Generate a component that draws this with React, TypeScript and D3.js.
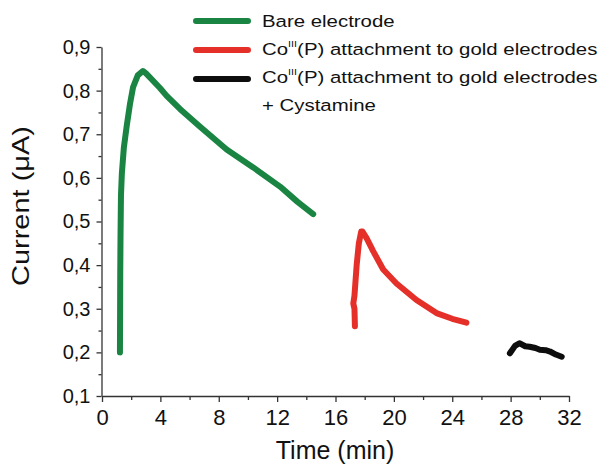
import React, { useEffect, useRef } from 'react';
import * as d3 from 'd3';

const bareTime = [1.23, 1.25, 1.27, 1.3, 1.36, 1.5, 1.69, 1.92, 2.13, 2.45, 2.8, 3.0, 3.97, 4.43, 5.34, 6.7, 8.54, 10.36, 12.2, 13.4, 14.47];
const bareCurrent = [0.2, 0.38, 0.47, 0.56, 0.61, 0.67, 0.718, 0.77, 0.808, 0.835, 0.845, 0.84, 0.806, 0.788, 0.758, 0.718, 0.665, 0.624, 0.58, 0.545, 0.517];

const coTime = [17.33, 17.3, 17.22, 17.3, 17.45, 17.6, 17.76, 17.85, 18.13, 18.58, 19.27, 20.18, 21.55, 22.92, 24.0, 24.97];
const coCurrent = [0.26, 0.3, 0.312, 0.33, 0.4, 0.45, 0.477, 0.477, 0.462, 0.432, 0.39, 0.358, 0.32, 0.29, 0.277, 0.268];

const cysTime = [27.95, 28.3, 28.6, 29.0, 29.3, 29.7, 30.0, 30.4, 30.7, 31.1, 31.5];
const cysCurrent = [0.198, 0.215, 0.221, 0.214, 0.213, 0.21, 0.206, 0.205, 0.202, 0.195, 0.19];

const xMajor = [0, 4, 8, 12, 16, 20, 24, 28, 32];
const xMinor = [2, 6, 10, 14, 18, 22, 26, 30];
const yMajor = [0.1, 0.2, 0.3, 0.4, 0.5, 0.6, 0.7, 0.8, 0.9];
const yMinor = [0.15, 0.25, 0.35, 0.45, 0.55, 0.65, 0.75, 0.85];

const seriesNames = ['Bare electrode', 'Co(III)(P) attachment to gold electrodes', 'Co(III)(P) attachment to gold electrodes + Cystamine'];
const seriesColors = ['#1a8442', '#e5302a', '#0d0d0d'];

const W = 603;
const H = 465;
const FONT = "'Liberation Sans', Arial, Helvetica, sans-serif";

function App() {
    const ref = useRef<SVGSVGElement>(null);

    useEffect(() => {
        drawChart();
    }, []);

    function drawChart() {
        const svg = d3.select(ref.current);
        svg.selectAll('*').remove();

        const x = d3.scaleLinear().domain([0, 32]).range([102, 569]);
        const y = d3.scaleLinear().domain([0.1, 0.9]).range([396, 47]);

        const comma = d3.formatLocale({ decimal: ',', thousands: '.', grouping: [3], currency: ['', ''] }).format('.1f');

        // minor ticks first
        svg.append('g')
            .attr('transform', 'translate(0,396)')
            .call(d3.axisBottom(x).tickValues(xMinor).tickSize(4).tickFormat(() => ''))
            .call((g) => g.select('.domain').remove());
        svg.append('g')
            .attr('transform', 'translate(101.5,0)')
            .call(d3.axisLeft(y).tickValues(yMinor).tickSize(3).tickFormat(() => ''))
            .call((g) => g.select('.domain').remove());

        const xAxis = svg.append('g')
            .attr('transform', 'translate(0,396)')
            .call(d3.axisBottom(x).tickValues(xMajor).tickSize(6).tickSizeOuter(0).tickPadding(7).tickFormat((d) => `${d}`));
        xAxis.selectAll('text').style('font-size', '22px');

        const yAxis = svg.append('g')
            .attr('transform', 'translate(101.5,0)')
            .call(d3.axisLeft(y).tickValues(yMajor).tickSize(5).tickSizeOuter(0).tickPadding(6).tickFormat((d) => comma(d as number)));
        yAxis.selectAll('text').style('font-size', '20px');

        svg.selectAll('.domain, .tick line').attr('stroke', '#333').attr('stroke-width', 1.3);
        svg.selectAll('.tick text').attr('fill', '#111').style('font-family', FONT);

        const line = d3.line<[number, number]>()
            .x((d) => x(d[0]))
            .y((d) => y(d[1]));

        const series = [
            d3.zip(bareTime, bareCurrent),
            d3.zip(coTime, coCurrent),
            d3.zip(cysTime, cysCurrent),
        ];

        svg.selectAll('path.series')
            .data(series)
            .enter()
            .append('path')
            .attr('class', 'series')
            .attr('d', (d) => line(d as [number, number][]))
            .attr('fill', 'none')
            .attr('stroke', (_, i) => seriesColors[i])
            .attr('stroke-width', 6)
            .attr('stroke-linecap', 'round')
            .attr('stroke-linejoin', 'round');

        // axis titles
        svg.append('text')
            .attr('x', 335)
            .attr('y', 459)
            .attr('text-anchor', 'middle')
            .style('font-family', FONT)
            .style('font-size', '25px')
            .attr('fill', '#111')
            .text('Time (min)');

        svg.append('text')
            .attr('transform', 'translate(29,206) rotate(-90)')
            .attr('text-anchor', 'middle')
            .style('font-family', FONT)
            .style('font-size', '24px')
            .attr('fill', '#111')
            .attr('textLength', 160)
            .attr('lengthAdjust', 'spacingAndGlyphs')
            .text('Current (\u03bcA)');

        // legend
        const legend = svg.append('g');
        const rowY = [21, 50, 79];
        legend.selectAll('line')
            .data(seriesNames)
            .enter()
            .append('line')
            .attr('x1', 196)
            .attr('x2', 248)
            .attr('y1', (_, i) => rowY[i])
            .attr('y2', (_, i) => rowY[i])
            .attr('stroke', (_, i) => seriesColors[i])
            .attr('stroke-width', 6)
            .attr('stroke-linecap', 'round');

        const labels = legend.append('g')
            .attr('transform', 'translate(262,0) scale(1.2,1)')
            .style('font-family', FONT)
            .style('font-size', '17px')
            .attr('fill', '#111');

        labels.append('text').attr('y', 27).text('Bare electrode');

        [55, 83].forEach((base) => {
            const t = labels.append('text').attr('y', base);
            t.append('tspan').text('Co');
            t.append('tspan').attr('dy', -8).style('font-size', '9px').text('III');
            t.append('tspan').attr('dy', 8).text('(P) attachment to gold electrodes');
        });
        labels.append('text').attr('y', 111).text('+ Cystamine');
    }

    return (
        <div style={{ position: 'absolute', left: 0, top: 0 }}>
            <svg ref={ref} width={W} height={H} style={{ display: 'block', background: '#fff' }} />
        </div>
    );
}

export default App;
